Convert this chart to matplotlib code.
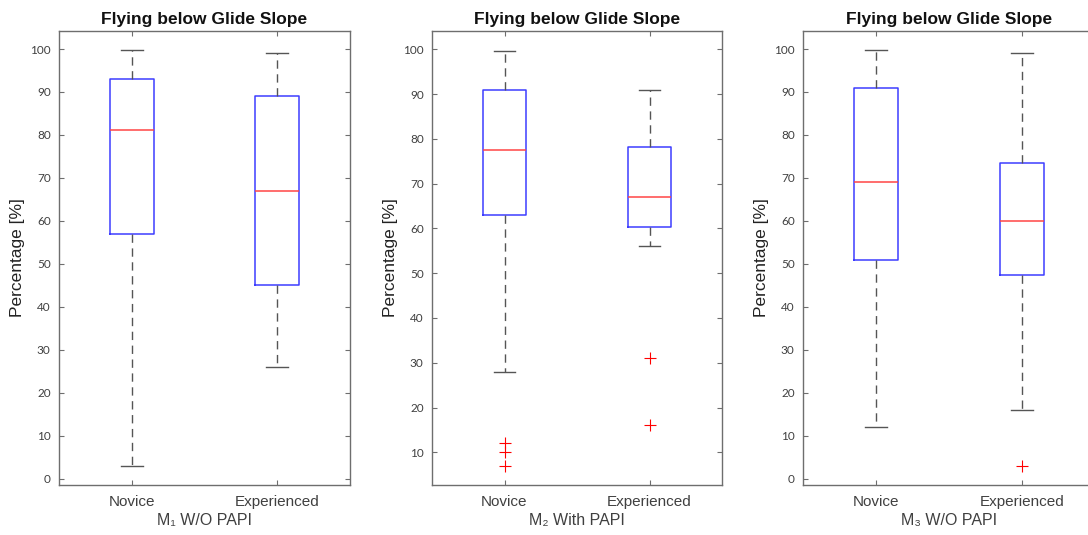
import matplotlib
matplotlib.use("Agg")
import matplotlib.pyplot as plt

groups = ["Novice", "Experienced"]
panel_titles = ["Flying below Glide Slope"] * 3
panel_xlabels = ["M\u2081 W/O PAPI", "M\u2082 With PAPI", "M\u2083 W/O PAPI"]

# five-number summaries: low whisker, q1, median, q3, high whisker
m1_novice = [3, 57, 81.2, 93, 99.7]
m1_exper = [26, 45, 67, 89, 99]
m2_novice = [28, 63, 77.5, 91, 99.7]
m2_exper = [56, 60.3, 67, 78.3, 91]
m3_novice = [12, 51, 69, 91, 99.7]
m3_exper = [16, 47.5, 60, 73.5, 99]

m1_fliers = [[], []]
m2_fliers = [[12, 10, 7], [31, 16]]
m3_fliers = [[], [3]]

panel_ylims = [(-1.5, 104.2), (2.7, 104.1), (-1.5, 104.2)]
panel_yticks = [range(0, 101, 10), range(10, 101, 10), range(0, 101, 10)]


def make_stats(summary, fliers, label):
    lo, q1, med, q3, hi = summary
    return dict(whislo=lo, q1=q1, med=med, q3=q3, whishi=hi, fliers=fliers, label=label)


panels = [
    [make_stats(m1_novice, m1_fliers[0], groups[0]), make_stats(m1_exper, m1_fliers[1], groups[1])],
    [make_stats(m2_novice, m2_fliers[0], groups[0]), make_stats(m2_exper, m2_fliers[1], groups[1])],
    [make_stats(m3_novice, m3_fliers[0], groups[0]), make_stats(m3_exper, m3_fliers[1], groups[1])],
]

fig = plt.figure(figsize=(10.88, 5.35), dpi=100)
fig.patch.set_facecolor("white")

lefts = [59 / 1088, 432 / 1088, 803 / 1088]
widths = [291 / 1088, 290 / 1088, 292 / 1088]
bottom = 1 - 485 / 535
height = 454 / 535

spine_col = "#6e6e6e"
text_col = "#404040"

for i, stats in enumerate(panels):
    ax = fig.add_axes([lefts[i], bottom, widths[i], height])
    ax.bxp(stats, positions=[1, 2], widths=0.30, capwidths=0.15,
           boxprops=dict(color="#3d3dff", linewidth=1.1),
           medianprops=dict(color="#ff4545", linewidth=1.1),
           whiskerprops=dict(color="#555555", linewidth=1.0, linestyle=(0, (6, 4))),
           capprops=dict(color="#555555", linewidth=1.0),
           flierprops=dict(marker="+", markeredgecolor="red", markersize=9,
                           markeredgewidth=0.8, linestyle="none"))
    ax.set_xlim(0.5, 2.5)
    ax.set_ylim(*panel_ylims[i])
    ax.set_yticks(list(panel_yticks[i]))
    ax.set_xticks([1, 2])
    ax.set_xticklabels(groups, fontsize=11, color=text_col, family="Liberation Sans")
    for lab in ax.get_yticklabels():
        lab.set_family("Lato")
        lab.set_fontsize(8.5)
        lab.set_color(text_col)
    ax.tick_params(axis="both", direction="in", top=True, right=True,
                   length=3.5, width=0.8, color=spine_col)
    ax.tick_params(axis="y", pad=6)
    ax.tick_params(axis="x", pad=7)
    for sp in ax.spines.values():
        sp.set_color(spine_col)
        sp.set_linewidth(1.0)
    ax.set_title(panel_titles[i], fontsize=12.5, fontweight="bold",
                 family="Liberation Sans", color="#111111", pad=5)
    ax.set_xlabel(panel_xlabels[i], fontsize=11.5, color=text_col,
                  family=["Liberation Sans", "DejaVu Sans"], labelpad=3)
    ax.set_ylabel("Percentage [%]", fontsize=12.5, color="#222222",
                  family="Liberation Sans")
    ax.yaxis.set_label_coords(-34 / 291, 0.5)

plt.savefig("out.png", dpi=100, facecolor="white")
